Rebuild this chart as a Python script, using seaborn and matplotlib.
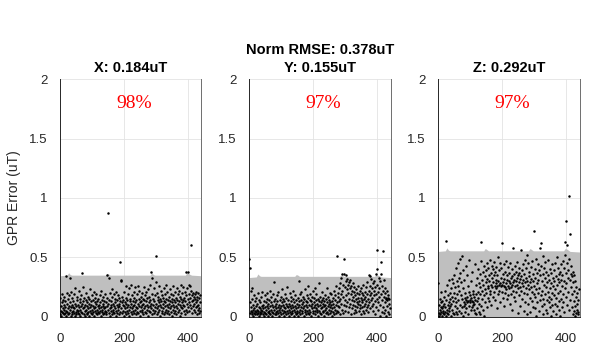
import numpy as np
import pandas as pd
import matplotlib
matplotlib.use("Agg")
import matplotlib.pyplot as plt
import seaborn as sns

# ---------------- data ----------------
titles = ["X: 0.184uT", "Y: 0.155uT", "Z: 0.292uT"]
suptitle = "Norm RMSE: 0.378uT"
percents = ["98%", "97%", "97%"]
ylabel = "GPR Error (uT)"
yticks = [0, 0.5, 1, 1.5, 2]
ytick_labels = ["0", "0.5", "1", "1.5", "2"]
xticks = [0, 200, 400]
xtick_labels = ["0", "200", "400"]

err_x = [
    0.02, 0.16, 0.05, 0.09, 0.01, 0.12, 0.04, 0.19, 0.07, 0.03, 0.14, 0.02, 0.10, 0.06, 0.17, 0.03, 0.08, 0.13, 0.01, 0.05,
    0.34, 0.11, 0.04, 0.20, 0.07, 0.02, 0.15, 0.09, 0.03, 0.18, 0.33, 0.06, 0.12, 0.01, 0.08, 0.21, 0.04, 0.10, 0.02, 0.16,
    0.05, 0.13, 0.08, 0.03, 0.19, 0.07, 0.01, 0.11, 0.24, 0.04, 0.09, 0.02, 0.14, 0.06, 0.17, 0.03, 0.10, 0.05, 0.22, 0.08,
    0.02, 0.12, 0.06, 0.15, 0.01, 0.09, 0.18, 0.04, 0.11, 0.03, 0.37, 0.07, 0.25, 0.13, 0.02, 0.08, 0.16, 0.05, 0.10, 0.01,
    0.14, 0.06, 0.20, 0.03, 0.09, 0.12, 0.02, 0.17, 0.07, 0.04, 0.11, 0.15, 0.01, 0.08, 0.23, 0.05, 0.13, 0.03, 0.10, 0.06,
    0.18, 0.02, 0.09, 0.14, 0.04, 0.07, 0.21, 0.01, 0.12, 0.05, 0.16, 0.08, 0.03, 0.11, 0.19, 0.06, 0.02, 0.13, 0.09, 0.04,
    0.15, 0.07, 0.10, 0.03, 0.18, 0.05, 0.12, 0.01, 0.08, 0.22, 0.04, 0.14, 0.06, 0.09, 0.02, 0.17, 0.11, 0.03, 0.07, 0.13,
    0.05, 0.19, 0.08, 0.02, 0.12, 0.04, 0.16, 0.09, 0.35, 0.87, 0.06, 0.11, 0.33, 0.03, 0.14, 0.07, 0.20, 0.01, 0.10, 0.05,
    0.13, 0.08, 0.23, 0.02, 0.17, 0.06, 0.11, 0.04, 0.19, 0.09, 0.03, 0.15, 0.07, 0.12, 0.01, 0.21, 0.05, 0.10, 0.14, 0.03,
    0.08, 0.18, 0.06, 0.11, 0.02, 0.16, 0.09, 0.04, 0.13, 0.46, 0.30, 0.07, 0.31, 0.12, 0.03, 0.17, 0.05, 0.10, 0.14, 0.01,
    0.09, 0.21, 0.04, 0.12, 0.07, 0.16, 0.02, 0.11, 0.26, 0.05, 0.14, 0.08, 0.19, 0.03, 0.10, 0.06, 0.24, 0.01, 0.13, 0.08,
    0.15, 0.04, 0.11, 0.27, 0.07, 0.02, 0.18, 0.09, 0.13, 0.05, 0.21, 0.03, 0.10, 0.16, 0.06, 0.25, 0.12, 0.02, 0.08, 0.14,
    0.04, 0.19, 0.07, 0.11, 0.26, 0.03, 0.15, 0.09, 0.22, 0.05, 0.12, 0.01, 0.17, 0.08, 0.13, 0.04, 0.20, 0.10, 0.06, 0.15,
    0.02, 0.11, 0.25, 0.07, 0.14, 0.04, 0.18, 0.09, 0.03, 0.13, 0.21, 0.06, 0.10, 0.16, 0.01, 0.08, 0.23, 0.12, 0.05, 0.17,
    0.09, 0.27, 0.04, 0.14, 0.07, 0.38, 0.11, 0.02, 0.19, 0.33, 0.06, 0.15, 0.10, 0.24, 0.03, 0.13, 0.08, 0.18, 0.05, 0.29,
    0.11, 0.51, 0.07, 0.20, 0.02, 0.14, 0.09, 0.17, 0.04, 0.12, 0.26, 0.06, 0.15, 0.01, 0.10, 0.22, 0.08, 0.13, 0.03, 0.18,
    0.05, 0.11, 0.16, 0.07, 0.24, 0.02, 0.13, 0.09, 0.19, 0.04, 0.12, 0.27, 0.06, 0.15, 0.10, 0.03, 0.21, 0.08, 0.14, 0.05,
    0.17, 0.02, 0.11, 0.23, 0.07, 0.13, 0.04, 0.19, 0.09, 0.15, 0.01, 0.12, 0.26, 0.06, 0.10, 0.18, 0.03, 0.14, 0.08, 0.21,
    0.05, 0.12, 0.16, 0.02, 0.09, 0.24, 0.07, 0.14, 0.11, 0.04, 0.19, 0.13, 0.06, 0.22, 0.10, 0.01, 0.17, 0.08, 0.15, 0.27,
    0.03, 0.12, 0.20, 0.07, 0.14, 0.10, 0.25, 0.05, 0.16, 0.09, 0.21, 0.02, 0.13, 0.18, 0.06, 0.38, 0.11, 0.24, 0.04, 0.38,
    0.15, 0.08, 0.27, 0.12, 0.19, 0.05, 0.26, 0.10, 0.16, 0.07, 0.60, 0.22, 0.13, 0.03, 0.18, 0.09, 0.20, 0.14, 0.06, 0.17,
    0.11, 0.19, 0.04, 0.15, 0.08, 0.21, 0.12, 0.02, 0.17, 0.09, 0.14, 0.06, 0.20, 0.10, 0.03, 0.16, 0.07, 0.12, 0.05, 0.18,
]

err_y = [
    0.49, 0.41, 0.03, 0.12, 0.22, 0.05, 0.08, 0.02, 0.15, 0.04, 0.24, 0.06, 0.01, 0.10, 0.03, 0.18, 0.07, 0.02, 0.13, 0.05,
    0.04, 0.09, 0.16, 0.02, 0.06, 0.11, 0.03, 0.20, 0.05, 0.08, 0.01, 0.14, 0.04, 0.07, 0.12, 0.02, 0.17, 0.06, 0.03, 0.09,
    0.05, 0.21, 0.02, 0.10, 0.07, 0.13, 0.01, 0.04, 0.18, 0.08, 0.03, 0.12, 0.06, 0.02, 0.15, 0.09, 0.20, 0.04, 0.11, 0.01,
    0.07, 0.03, 0.14, 0.05, 0.22, 0.09, 0.02, 0.12, 0.06, 0.17, 0.04, 0.10, 0.01, 0.08, 0.19, 0.03, 0.13, 0.06, 0.29, 0.02,
    0.09, 0.15, 0.04, 0.07, 0.11, 0.02, 0.18, 0.05, 0.13, 0.08, 0.03, 0.21, 0.06, 0.10, 0.01, 0.14, 0.07, 0.04, 0.17, 0.09,
    0.02, 0.12, 0.06, 0.23, 0.03, 0.10, 0.15, 0.05, 0.08, 0.01, 0.13, 0.19, 0.04, 0.07, 0.11, 0.02, 0.16, 0.09, 0.05, 0.25,
    0.03, 0.08, 0.14, 0.06, 0.01, 0.11, 0.20, 0.04, 0.09, 0.13, 0.02, 0.07, 0.17, 0.05, 0.10, 0.03, 0.15, 0.08, 0.22, 0.01,
    0.06, 0.12, 0.04, 0.09, 0.18, 0.02, 0.14, 0.07, 0.03, 0.11, 0.05, 0.16, 0.08, 0.01, 0.13, 0.30, 0.04, 0.10, 0.19, 0.06,
    0.02, 0.14, 0.08, 0.21, 0.05, 0.11, 0.03, 0.17, 0.07, 0.12, 0.01, 0.09, 0.15, 0.04, 0.23, 0.06, 0.10, 0.02, 0.13, 0.18,
    0.05, 0.08, 0.12, 0.03, 0.16, 0.26, 0.06, 0.10, 0.02, 0.14, 0.19, 0.04, 0.09, 0.13, 0.01, 0.07, 0.11, 0.17, 0.05, 0.22,
    0.03, 0.12, 0.08, 0.16, 0.05, 0.10, 0.24, 0.02, 0.14, 0.07, 0.19, 0.04, 0.11, 0.06, 0.15, 0.01, 0.09, 0.13, 0.28, 0.05,
    0.10, 0.03, 0.17, 0.07, 0.12, 0.02, 0.14, 0.08, 0.21, 0.05, 0.11, 0.04, 0.16, 0.09, 0.01, 0.13, 0.06, 0.18, 0.10, 0.03,
    0.15, 0.07, 0.12, 0.24, 0.04, 0.09, 0.02, 0.17, 0.11, 0.06, 0.14, 0.20, 0.03, 0.08, 0.12, 0.05, 0.19, 0.10, 0.01, 0.13,
    0.07, 0.16, 0.04, 0.11, 0.22, 0.08, 0.02, 0.14, 0.06, 0.18, 0.10, 0.03, 0.26, 0.12, 0.05, 0.51, 0.09, 0.17, 0.20, 0.04,
    0.24, 0.13, 0.08, 0.28, 0.15, 0.02, 0.19, 0.33, 0.11, 0.06, 0.36, 0.22, 0.03, 0.17, 0.27, 0.49, 0.10, 0.36, 0.14, 0.25,
    0.05, 0.30, 0.18, 0.35, 0.09, 0.23, 0.32, 0.12, 0.27, 0.04, 0.20, 0.29, 0.15, 0.08, 0.24, 0.31, 0.11, 0.19, 0.02, 0.26,
    0.14, 0.22, 0.07, 0.17, 0.28, 0.10, 0.03, 0.21, 0.13, 0.25, 0.06, 0.18, 0.09, 0.15, 0.23, 0.04, 0.12, 0.20, 0.08, 0.16,
    0.11, 0.26, 0.05, 0.19, 0.13, 0.07, 0.22, 0.10, 0.16, 0.02, 0.24, 0.14, 0.08, 0.20, 0.12, 0.05, 0.18, 0.27, 0.09, 0.15,
    0.03, 0.21, 0.11, 0.17, 0.06, 0.25, 0.13, 0.08, 0.19, 0.29, 0.10, 0.15, 0.04, 0.35, 0.22, 0.12, 0.18, 0.34, 0.07, 0.26,
    0.14, 0.20, 0.32, 0.09, 0.24, 0.16, 0.11, 0.28, 0.05, 0.22, 0.18, 0.30, 0.13, 0.02, 0.25, 0.19, 0.08, 0.36, 0.15, 0.40,
    0.56, 0.27, 0.12, 0.21, 0.06, 0.33, 0.17, 0.24, 0.01, 0.30, 0.10, 0.36, 0.46, 0.19, 0.04, 0.26, 0.14, 0.22, 0.55, 0.08,
    0.31, 0.17, 0.03, 0.24, 0.12, 0.20, 0.06, 0.16, 0.15, 0.01, 0.22, 0.09, 0.14, 0.18, 0.04, 0.16, 0.11, 0.02, 0.15, 0.07,
]

err_z = [
    0.28, 0.03, 0.10, 0.01, 0.15, 0.06, 0.02, 0.08, 0.12, 0.04, 0.21, 0.01, 0.07, 0.13, 0.03, 0.09, 0.05, 0.17, 0.02, 0.11,
    0.04, 0.22, 0.08, 0.01, 0.64, 0.14, 0.06, 0.03, 0.27, 0.10, 0.02, 0.18, 0.07, 0.12, 0.31, 0.05, 0.20, 0.09, 0.15, 0.01,
    0.24, 0.11, 0.32, 0.06, 0.17, 0.03, 0.28, 0.13, 0.20, 0.02, 0.35, 0.09, 0.16, 0.25, 0.04, 0.41, 0.12, 0.30, 0.07, 0.19,
    0.02, 0.26, 0.45, 0.14, 0.33, 0.05, 0.22, 0.49, 0.10, 0.37, 0.03, 0.18, 0.29, 0.08, 0.51, 0.15, 0.24, 0.01, 0.39, 0.12,
    0.31, 0.09, 0.16, 0.04, 0.20, 0.11, 0.43, 0.14, 0.07, 0.35, 0.12, 0.17, 0.02, 0.26, 0.13, 0.21, 0.09, 0.48, 0.12, 0.18,
    0.14, 0.06, 0.30, 0.16, 0.08, 0.13, 0.38, 0.10, 0.19, 0.22, 0.12, 0.06, 0.17, 0.11, 0.44, 0.14, 0.03, 0.19, 0.27, 0.02,
    0.13, 0.33, 0.07, 0.21, 0.16, 0.40, 0.04, 0.28, 0.11, 0.36, 0.19, 0.02, 0.25, 0.47, 0.09, 0.63, 0.31, 0.15, 0.22, 0.38,
    0.06, 0.27, 0.43, 0.18, 0.01, 0.34, 0.23, 0.12, 0.39, 0.29, 0.20, 0.45, 0.08, 0.32, 0.26, 0.16, 0.41, 0.24, 0.35, 0.13,
    0.30, 0.22, 0.48, 0.19, 0.37, 0.27, 0.10, 0.43, 0.33, 0.25, 0.17, 0.40, 0.29, 0.21, 0.46, 0.35, 0.26, 0.14, 0.38, 0.31,
    0.24, 0.42, 0.28, 0.07, 0.35, 0.26, 0.50, 0.19, 0.30, 0.27, 0.39, 0.22, 0.45, 0.28, 0.12, 0.33, 0.26, 0.41, 0.21, 0.62,
    0.27, 0.36, 0.16, 0.29, 0.44, 0.26, 0.09, 0.32, 0.25, 0.38, 0.20, 0.28, 0.47, 0.23, 0.31, 0.15, 0.35, 0.26, 0.42, 0.18,
    0.30, 0.24, 0.37, 0.11, 0.28, 0.45, 0.25, 0.33, 0.19, 0.40, 0.27, 0.06, 0.34, 0.22, 0.29, 0.58, 0.36, 0.17, 0.31, 0.43,
    0.26, 0.13, 0.38, 0.30, 0.21, 0.46, 0.33, 0.27, 0.03, 0.35, 0.24, 0.41, 0.29, 0.18, 0.37, 0.32, 0.25, 0.09, 0.56, 0.34,
    0.22, 0.39, 0.28, 0.15, 0.44, 0.31, 0.26, 0.05, 0.36, 0.20, 0.48, 0.29, 0.12, 0.33, 0.24, 0.41, 0.02, 0.30, 0.52, 0.19,
    0.27, 0.45, 0.11, 0.34, 0.23, 0.38, 0.16, 0.29, 0.04, 0.42, 0.25, 0.32, 0.13, 0.47, 0.21, 0.36, 0.08, 0.30, 0.19, 0.72,
    0.26, 0.40, 0.07, 0.33, 0.17, 0.49, 0.23, 0.01, 0.37, 0.28, 0.12, 0.44, 0.20, 0.31, 0.05, 0.39, 0.24, 0.14, 0.35, 0.58,
    0.62, 0.18, 0.43, 0.09, 0.30, 0.22, 0.51, 0.15, 0.36, 0.02, 0.27, 0.41, 0.11, 0.33, 0.19, 0.46, 0.06, 0.25, 0.38, 0.14,
    0.29, 0.03, 0.35, 0.21, 0.48, 0.12, 0.31, 0.17, 0.40, 0.08, 0.24, 0.37, 0.01, 0.28, 0.15, 0.44, 0.20, 0.10, 0.33, 0.26,
    0.05, 0.39, 0.18, 0.30, 0.11, 0.45, 0.23, 0.02, 0.34, 0.16, 0.27, 0.50, 0.09, 0.32, 0.20, 0.41, 0.13, 0.36, 0.06, 0.29,
    0.22, 0.38, 0.01, 0.31, 0.15, 0.44, 0.26, 0.08, 0.35, 0.19, 0.47, 0.12, 0.30, 0.04, 0.41, 0.63, 0.24, 0.52, 0.17, 0.37,
    0.81, 0.28, 0.45, 0.10, 0.60, 0.33, 0.21, 0.39, 0.06, 0.49, 1.02, 0.31, 0.14, 0.70, 0.36, 0.25, 0.43, 0.08, 0.34, 0.19,
    0.38, 0.02, 0.29, 0.13, 0.35, 0.05, 0.22, 0.01, 0.30, 0.09, 0.17, 0.03, 0.25, 0.11, 0.06, 0.20, 0.02, 0.14, 0.04, 0.23,
]

band_x = [0, 22, 27, 32, 37, 142, 147, 152, 157, 282, 287, 292, 297, 392, 397, 402, 407, 412, 442]
band_hi_x = [0.345, 0.35, 0.37, 0.355, 0.35, 0.35, 0.365, 0.36, 0.35, 0.35, 0.37, 0.355, 0.35,
             0.35, 0.37, 0.365, 0.355, 0.35, 0.345]
band_hi_y = [0.33, 0.335, 0.36, 0.345, 0.34, 0.34, 0.355, 0.35, 0.34, 0.34, 0.35, 0.345, 0.34,
             0.34, 0.355, 0.35, 0.345, 0.335, 0.33]
band_hi_z = [0.55, 0.555, 0.58, 0.56, 0.555, 0.555, 0.575, 0.565, 0.555, 0.555, 0.575, 0.565, 0.555,
             0.555, 0.575, 0.57, 0.56, 0.55, 0.545]

errors = [err_x, err_y, err_z]
bands = [band_hi_x, band_hi_y, band_hi_z]

# ---------------- style ----------------
sns.set_style("white")
plt.rcParams["font.family"] = ["Liberation Sans", "DejaVu Sans"]
plt.rcParams["text.color"] = "black"

fig = plt.figure(figsize=(5.98, 3.54), dpi=100)
lefts = [60 / 598, 249.3 / 598, 438.3 / 598]
bottom = (354 - 316.7) / 354
width = 141.3 / 598
height = 237.4 / 354

for i in range(3):
    ax = fig.add_axes([lefts[i], bottom, width, height])
    vals = errors[i]
    df = pd.DataFrame({"idx": np.arange(len(vals)), "err": vals})
    ax.fill_between(band_x, 0, bands[i], color="#bfbfbf", linewidth=0, zorder=1)
    sns.scatterplot(data=df, x="idx", y="err", ax=ax, color="black", s=3.2,
                    linewidth=0, zorder=3, legend=False)
    ax.set_xlim(0, 442)
    ax.set_ylim(0, 2)
    ax.set_xticks(xticks)
    ax.set_xticklabels(xtick_labels)
    ax.set_yticks(yticks)
    ax.set_yticklabels(ytick_labels)
    ax.grid(True, color="#e3e3e3", linewidth=0.6, zorder=0)
    ax.set_axisbelow(True)
    ax.set_xlabel("")
    ax.set_ylabel(ylabel if i == 0 else "", fontsize=10, color="#262626", labelpad=6)
    ax.tick_params(axis="y", labelsize=9.5, direction="out", length=6,
                   width=0.6, colors="#262626", pad=3)
    ax.tick_params(axis="x", labelsize=9.5, direction="out", length=5,
                   width=0.6, color="#999999", labelcolor="#262626", pad=7)
    for side in ["left", "bottom"]:
        ax.spines[side].set_color("#262626")
        ax.spines[side].set_linewidth(0.7)
    ax.spines["right"].set_color("#6e6e6e")
    ax.spines["right"].set_linewidth(0.7)
    ax.spines["top"].set_visible(False)
    ax.set_title(titles[i], fontsize=10.5, fontweight="bold", pad=5, color="black")
    ax.text(231, 1.80, percents[i], color="red", fontsize=14, ha="center", va="center",
            family=["Liberation Serif", "DejaVu Serif"])

fig.text(lefts[1] + width / 2, 0.858, suptitle, ha="center", va="center",
         fontsize=10.5, fontweight="bold", color="black")

fig.savefig("out.png", dpi=100)
